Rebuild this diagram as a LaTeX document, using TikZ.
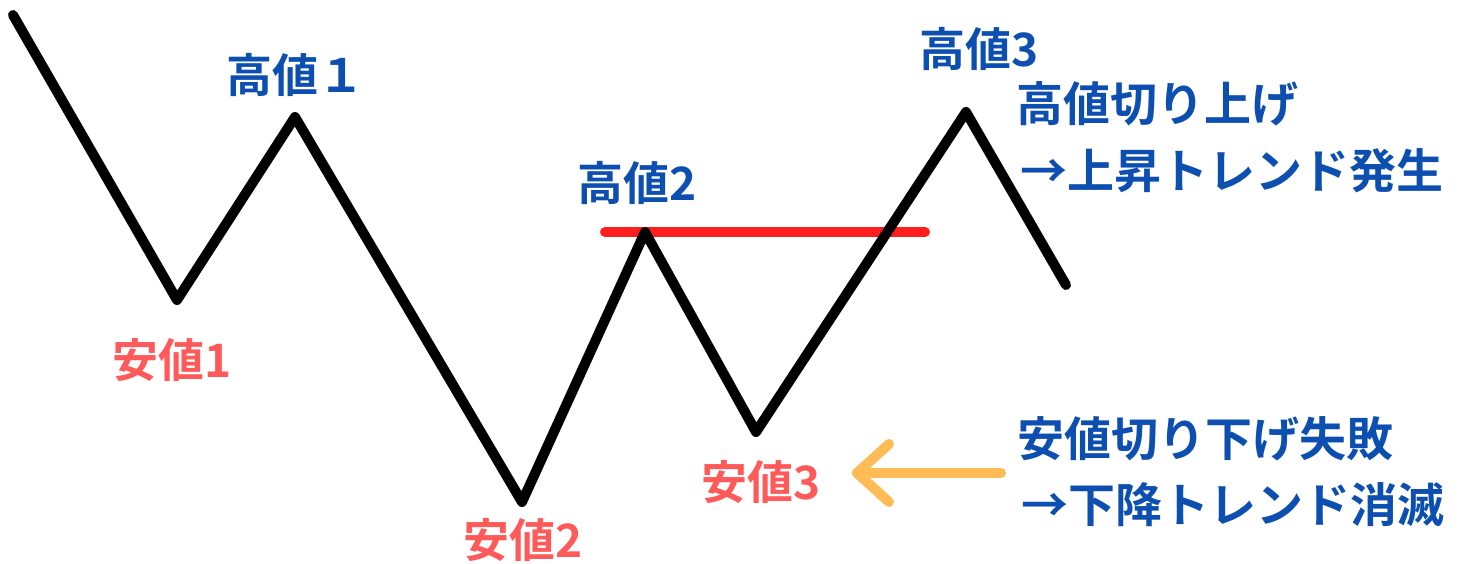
\documentclass[tikz,border=0pt]{standalone}
\usepackage{fontspec}
\newfontfamily\jp{Noto Sans CJK JP Bold}
\definecolor{lblblue}{RGB}{12,79,176}
\definecolor{lblred}{RGB}{255,90,90}
\definecolor{linered}{RGB}{255,30,30}
\definecolor{arrorange}{RGB}{255,187,85}
\tikzset{
  hi/.style={inner sep=0pt, anchor=west, text=lblblue, font=\jp\fontsize{46}{50}\selectfont},
  lo/.style={inner sep=0pt, anchor=west, text=lblred, font=\jp\fontsize{46}{50}\selectfont},
  note/.style={inner sep=0pt, anchor=west, text=lblblue, font=\jp\fontsize{47}{50}\selectfont},
  price/.style={line width=10pt, black, line cap=round, line join=round},
  level/.style={line width=10pt, linered, line cap=round},
  pointer/.style={line width=10pt, arrorange, line cap=round, line join=round}
}
\begin{document}
\begin{tikzpicture}[x=1pt,y=-1pt]
\useasboundingbox[fill=white] (0,0) rectangle (1466,563);
% zigzag points
\coordinate (p0) at (13,15);
\coordinate (l1) at (177,300);
\coordinate (h1) at (295,117);
\coordinate (l2) at (522,502);
\coordinate (h2) at (645,232);
\coordinate (l3) at (756,432);
\coordinate (h3) at (966,112);
\coordinate (pe) at (1066,285);
% resistance level
\coordinate (r0) at (605,232);
\coordinate (r1) at (925,232);
\draw[level] (r0) -- (r1);
\draw[price] (p0) -- (l1) -- (h1) -- (l2) -- (h2) -- (l3) -- (h3) -- (pe);
% orange arrow
\coordinate (at) at (1001,473);
\coordinate (ah) at (857,473);
\coordinate (aa) at (889,444);
\coordinate (ab) at (889,502);
\draw[pointer] (at) -- (ah);
\draw[pointer] (aa) -- (ah) -- (ab);
% labels
\node[hi] (th1) at (226,75) {高値１};
\node[hi] (th2) at (577,183) {高値2};
\node[hi] (th3) at (919,49) {高値3};
\node[lo] (tl1) at (112,360) {安値1};
\node[lo] (tl2) at (463,540) {安値2};
\node[lo] (tl3) at (701,482) {安値3};
\node[note] (n1) at (1016,104) {高値切り上げ};
\node[note] (n2) at (1020,171) {→上昇トレンド発生};
\node[note] (n3) at (1017,439) {安値切り下げ失敗};
\node[note] (n4) at (1021,505) {→下降トレンド消滅};
\end{tikzpicture}
\end{document}
